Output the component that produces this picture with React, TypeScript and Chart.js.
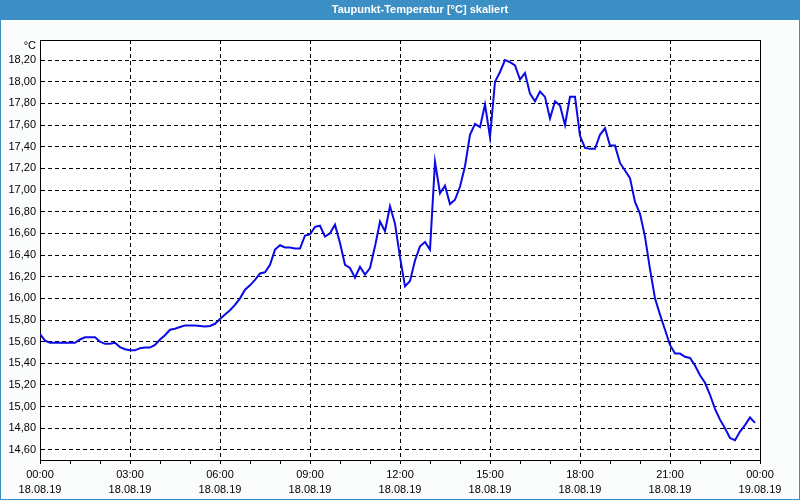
import React, { useEffect, useRef } from "react";
import { Chart, registerables } from "chart.js";

Chart.register(...registerables);

const chartTitle = "Taupunkt-Temperatur [°C] skaliert";
const unitLabel = "°C";

const times = [
  "00:00", "00:10", "00:20", "00:30", "00:40", "00:50",
  "01:00", "01:10", "01:20", "01:30", "01:40", "01:50",
  "02:00", "02:10", "02:20", "02:30", "02:40", "02:50",
  "03:00", "03:10", "03:20", "03:30", "03:40", "03:50",
  "04:00", "04:10", "04:20", "04:30", "04:40", "04:50",
  "05:00", "05:10", "05:20", "05:30", "05:40", "05:50",
  "06:00", "06:10", "06:20", "06:30", "06:40", "06:50",
  "07:00", "07:10", "07:20", "07:30", "07:40", "07:50",
  "08:00", "08:10", "08:20", "08:30", "08:40", "08:50",
  "09:00", "09:10", "09:20", "09:30", "09:40", "09:50",
  "10:00", "10:10", "10:20", "10:30", "10:40", "10:50",
  "11:00", "11:10", "11:20", "11:30", "11:40", "11:50",
  "12:00", "12:10", "12:20", "12:30", "12:40", "12:50",
  "13:00", "13:10", "13:20", "13:30", "13:40", "13:50",
  "14:00", "14:10", "14:20", "14:30", "14:40", "14:50",
  "15:00", "15:10", "15:20", "15:30", "15:40", "15:50",
  "16:00", "16:10", "16:20", "16:30", "16:40", "16:50",
  "17:00", "17:10", "17:20", "17:30", "17:40", "17:50",
  "18:00", "18:10", "18:20", "18:30", "18:40", "18:50",
  "19:00", "19:10", "19:20", "19:30", "19:40", "19:50",
  "20:00", "20:10", "20:20", "20:30", "20:40", "20:50",
  "21:00", "21:10", "21:20", "21:30", "21:40", "21:50",
  "22:00", "22:10", "22:20", "22:30", "22:40", "22:50",
  "23:00", "23:10", "23:20", "23:30", "23:40", "23:50",
];

const dewpoint = [
  15.67, 15.61, 15.59, 15.59, 15.59, 15.59,
  15.59, 15.59, 15.62, 15.64, 15.64, 15.64,
  15.60, 15.58, 15.58, 15.59, 15.55, 15.53,
  15.52, 15.52, 15.54, 15.545, 15.545, 15.57,
  15.62, 15.66, 15.71, 15.72, 15.735, 15.75,
  15.75, 15.75, 15.745, 15.74, 15.745, 15.765,
  15.81, 15.85, 15.89, 15.94, 16.00, 16.08,
  16.12, 16.17, 16.23, 16.24, 16.31, 16.45,
  16.49, 16.47, 16.47, 16.46, 16.46, 16.58,
  16.59, 16.66, 16.67, 16.57, 16.60, 16.68,
  16.51, 16.31, 16.28, 16.19, 16.29, 16.22,
  16.28, 16.48, 16.71, 16.62, 16.85, 16.69,
  16.38, 16.11, 16.16, 16.35, 16.48, 16.52,
  16.45, 17.26, 16.97, 17.04, 16.87, 16.91,
  17.03, 17.22, 17.51, 17.61, 17.58, 17.79,
  17.49, 18.00, 18.09, 18.20, 18.18, 18.15,
  18.02, 18.08, 17.89, 17.82, 17.91, 17.86,
  17.66, 17.82, 17.78, 17.60, 17.86, 17.86,
  17.50, 17.39, 17.38, 17.38, 17.51, 17.57,
  17.41, 17.41, 17.25, 17.18, 17.11, 16.89,
  16.78, 16.57, 16.27, 16.00, 15.85, 15.71,
  15.57, 15.49, 15.49, 15.46, 15.45, 15.38,
  15.29, 15.22, 15.11, 14.98, 14.88, 14.80,
  14.71, 14.69, 14.77, 14.83, 14.90, 14.85,
];

const yTickValues = [
  14.6, 14.8, 15.0, 15.2, 15.4, 15.6, 15.8, 16.0, 16.2, 16.4,
  16.6, 16.8, 17.0, 17.2, 17.4, 17.6, 17.8, 18.0, 18.2,
];
const yMin = 14.5075;
const yMax = 18.385;

const xMajorTimes = ["00:00", "03:00", "06:00", "09:00", "12:00", "15:00", "18:00", "21:00", "00:00"];
const xMajorDates = ["18.08.19", "18.08.19", "18.08.19", "18.08.19", "18.08.19", "18.08.19", "18.08.19", "18.08.19", "19.08.19"];

const FONT = '"Liberation Sans", Arial, sans-serif';
const TITLE_BLUE = "#3c8fc5";
const LINE_BLUE = "#0a0ae6";

function toMinutes(t: string): number {
  const [h, m] = t.split(":").map(Number);
  return h * 60 + m;
}

const framePlugin = {
  id: "frameDecor",
  beforeDraw(chart: any) {
    const { ctx, width, height, chartArea } = chart;
    ctx.save();
    ctx.fillStyle = "#fbfdfd";
    ctx.fillRect(0, 0, width, height);
    ctx.fillStyle = "#ffffff";
    ctx.fillRect(chartArea.left, chartArea.top, chartArea.right - chartArea.left, chartArea.bottom - chartArea.top);
    ctx.fillStyle = TITLE_BLUE;
    ctx.fillRect(0, 0, width, 20);
    ctx.fillRect(0, 0, 1, height);
    ctx.fillRect(width - 1, 0, 1, height);
    ctx.fillRect(0, height - 1, width, 1);
    ctx.fillStyle = "#ffffff";
    ctx.font = "bold 11px " + FONT;
    ctx.textAlign = "center";
    ctx.textBaseline = "middle";
    ctx.fillText(chartTitle, width / 2 + 20, 10);
    ctx.fillStyle = "#000000";
    ctx.font = "11px " + FONT;
    ctx.textAlign = "right";
    ctx.fillText(unitLabel, chartArea.left - 4, chartArea.top + 6);
    ctx.restore();
  },
  beforeDatasetsDraw(chart: any) {
    const { ctx, chartArea } = chart;
    ctx.save();
    ctx.strokeStyle = "#000000";
    ctx.lineWidth = 1;
    ctx.beginPath();
    ctx.moveTo(chartArea.left, chartArea.top + 0.5);
    ctx.lineTo(chartArea.right + 0.5, chartArea.top + 0.5);
    ctx.lineTo(chartArea.right + 0.5, chartArea.bottom);
    ctx.stroke();
    ctx.restore();
  },
};

export default function App() {
  const canvasRef = useRef<HTMLCanvasElement | null>(null);

  useEffect(() => {
    const canvas = canvasRef.current;
    if (!canvas) return;
    const points = times.map((t, i) => ({ x: toMinutes(t), y: dewpoint[i] }));
    const chart = new Chart(canvas, {
      type: "line",
      data: {
        datasets: [
          {
            label: chartTitle,
            data: points,
            borderColor: LINE_BLUE,
            borderWidth: 2,
            pointRadius: 0,
            tension: 0,
            fill: false,
          },
        ],
      },
      options: {
        responsive: false,
        animation: false,
        devicePixelRatio: 1,
        layout: { padding: { top: 40, right: 40, left: 0, bottom: 0 } },
        plugins: {
          legend: { display: false },
          title: { display: false },
          tooltip: { enabled: false },
        },
        scales: {
          x: {
            type: "linear",
            min: 0,
            max: 1440,
            afterFit(scale: any) {
              scale.height = 40;
            },
            afterBuildTicks(scale: any) {
              const ticks = [];
              for (let h = 0; h <= 24; h++) ticks.push({ value: h * 60 });
              scale.ticks = ticks;
            },
            ticks: {
              autoSkip: false,
              maxRotation: 0,
              minRotation: 0,
              padding: 3,
              color: "#000000",
              font: { family: FONT, size: 11, lineHeight: 1.4 },
              callback(value: any) {
                const v = Number(value);
                if (v % 180 !== 0) return "";
                const k = v / 180;
                return [xMajorTimes[k], xMajorDates[k]];
              },
            },
            grid: {
              color(ctx: any) {
                return ctx.tick && ctx.tick.value % 180 === 0 ? "#000000" : "rgba(0,0,0,0)";
              },
              lineWidth: 1,
              tickColor: "#000000",
              tickLength: 4,
              tickWidth: 1,
              drawTicks: true,
            },
            border: { display: true, color: "#000000", width: 1, dash: [4, 3] },
          },
          y: {
            type: "linear",
            min: yMin,
            max: yMax,
            afterFit(scale: any) {
              scale.width = 40;
            },
            afterBuildTicks(scale: any) {
              scale.ticks = yTickValues.map((v) => ({ value: v }));
            },
            ticks: {
              padding: 4,
              color: "#000000",
              font: { family: FONT, size: 11 },
              callback(value: any) {
                return Number(value).toFixed(2).replace(".", ",");
              },
            },
            grid: {
              color: "#000000",
              lineWidth: 1,
              drawTicks: false,
            },
            border: { display: true, color: "#000000", width: 1, dash: [4, 3] },
          },
        },
      },
      plugins: [framePlugin],
    });
    return () => {
      chart.destroy();
    };
  }, []);

  return (
    <div style={{ position: "fixed", left: 0, top: 0, width: 800, height: 500 }}>
      <canvas ref={canvasRef} width={800} height={500} style={{ display: "block" }} />
    </div>
  );
}
